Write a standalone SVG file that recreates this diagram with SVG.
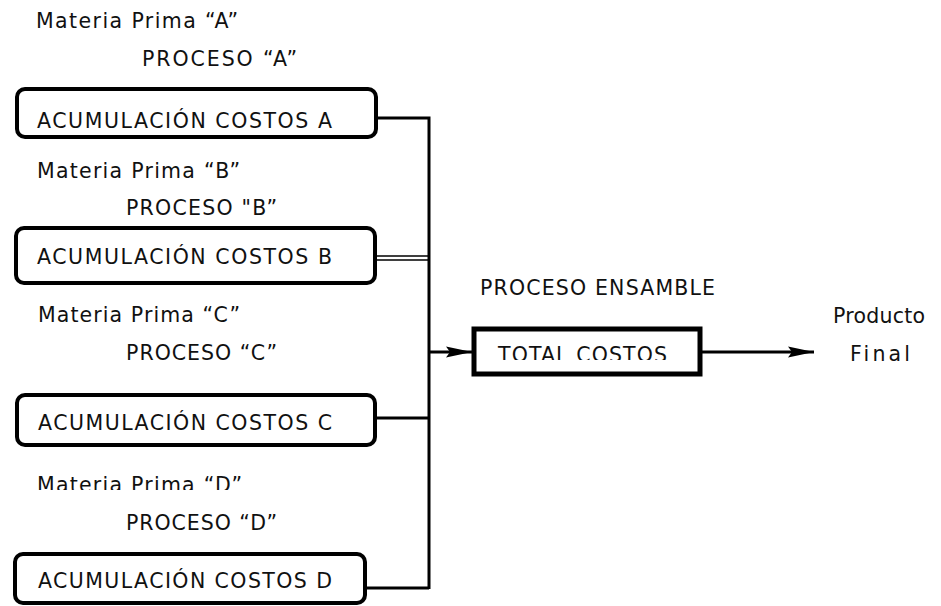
<svg xmlns="http://www.w3.org/2000/svg" width="941" height="606" viewBox="0 0 941 606">
<style>
text{font-family:"DejaVu Sans","Liberation Sans",sans-serif;font-size:20.5px;fill:#111}
.box{fill:#fff;stroke:#000;stroke-width:4}
.tot{fill:#fff;stroke:#000;stroke-width:5}
.ln{fill:none;stroke:#000;stroke-width:3}
.thin{fill:none;stroke:#000;stroke-width:1.5}
</style>
<defs>
<marker id="ah" markerUnits="userSpaceOnUse" markerWidth="28" markerHeight="14" refX="26" refY="7" orient="auto">
<path d="M0,1.5 L26,7 L0,12.5 L4,7 z" fill="#000"/>
</marker>
<clipPath id="clipTot"><rect x="480" y="330" width="210" height="30"/></clipPath>
<clipPath id="clipD"><rect x="0" y="470" width="400" height="20"/></clipPath>
</defs>
<rect width="941" height="606" fill="#fff"/>
<g id="labels">
<text x="36" y="28" textLength="202" lengthAdjust="spacing">Materia Prima “A”</text>
<text x="142" y="66" textLength="155" lengthAdjust="spacing">PROCESO “A”</text>
<text x="37" y="178" textLength="203" lengthAdjust="spacing">Materia Prima “B”</text>
<text x="126" y="215" textLength="151" lengthAdjust="spacing">PROCESO "B”</text>
<text x="38" y="322" textLength="202" lengthAdjust="spacing">Materia Prima “C”</text>
<text x="126" y="360" textLength="151" lengthAdjust="spacing">PROCESO “C”</text>
<text x="37" y="492" textLength="205" lengthAdjust="spacing" clip-path="url(#clipD)">Materia Prima “D”</text>
<text x="126" y="530" textLength="151" lengthAdjust="spacing">PROCESO “D”</text>
<text x="480" y="295" textLength="235" lengthAdjust="spacing">PROCESO ENSAMBLE</text>
<text x="833" y="323" textLength="92" lengthAdjust="spacing">Producto</text>
<text x="850" y="361" textLength="60" lengthAdjust="spacing">Final</text>
</g>
<g id="connectors">
<path class="ln" d="M376,118 H429 V589"/>
<path class="thin" d="M375,256 H429 M375,260 H429"/>
<path class="ln" d="M375,418 H429"/>
<path class="ln" d="M365,588 H429"/>
<path class="ln" d="M429,352 H472" marker-end="url(#ah)"/>
<path class="ln" d="M702,352 H814" marker-end="url(#ah)"/>
</g>
<g id="nodeA">
<rect class="box" x="17" y="89" width="359" height="48" rx="8"/>
<text x="37" y="128" textLength="295" lengthAdjust="spacing">ACUMULACIÓN COSTOS A</text>
</g>
<g id="nodeB">
<rect class="box" x="16" y="228" width="359" height="55" rx="8"/>
<text x="37" y="264" textLength="295" lengthAdjust="spacing">ACUMULACIÓN COSTOS B</text>
</g>
<g id="nodeC">
<rect class="box" x="17" y="395" width="358" height="50" rx="8"/>
<text x="38" y="430" textLength="294" lengthAdjust="spacing">ACUMULACIÓN COSTOS C</text>
</g>
<g id="nodeD">
<rect class="box" x="15" y="554" width="350" height="49" rx="8"/>
<text x="38" y="588" textLength="294" lengthAdjust="spacing">ACUMULACIÓN COSTOS D</text>
</g>
<g id="nodeTotal">
<rect class="tot" x="474" y="329" width="226" height="45"/>
<text x="498" y="362" textLength="169" lengthAdjust="spacing" clip-path="url(#clipTot)">TOTAL COSTOS</text>
</g>
</svg>
